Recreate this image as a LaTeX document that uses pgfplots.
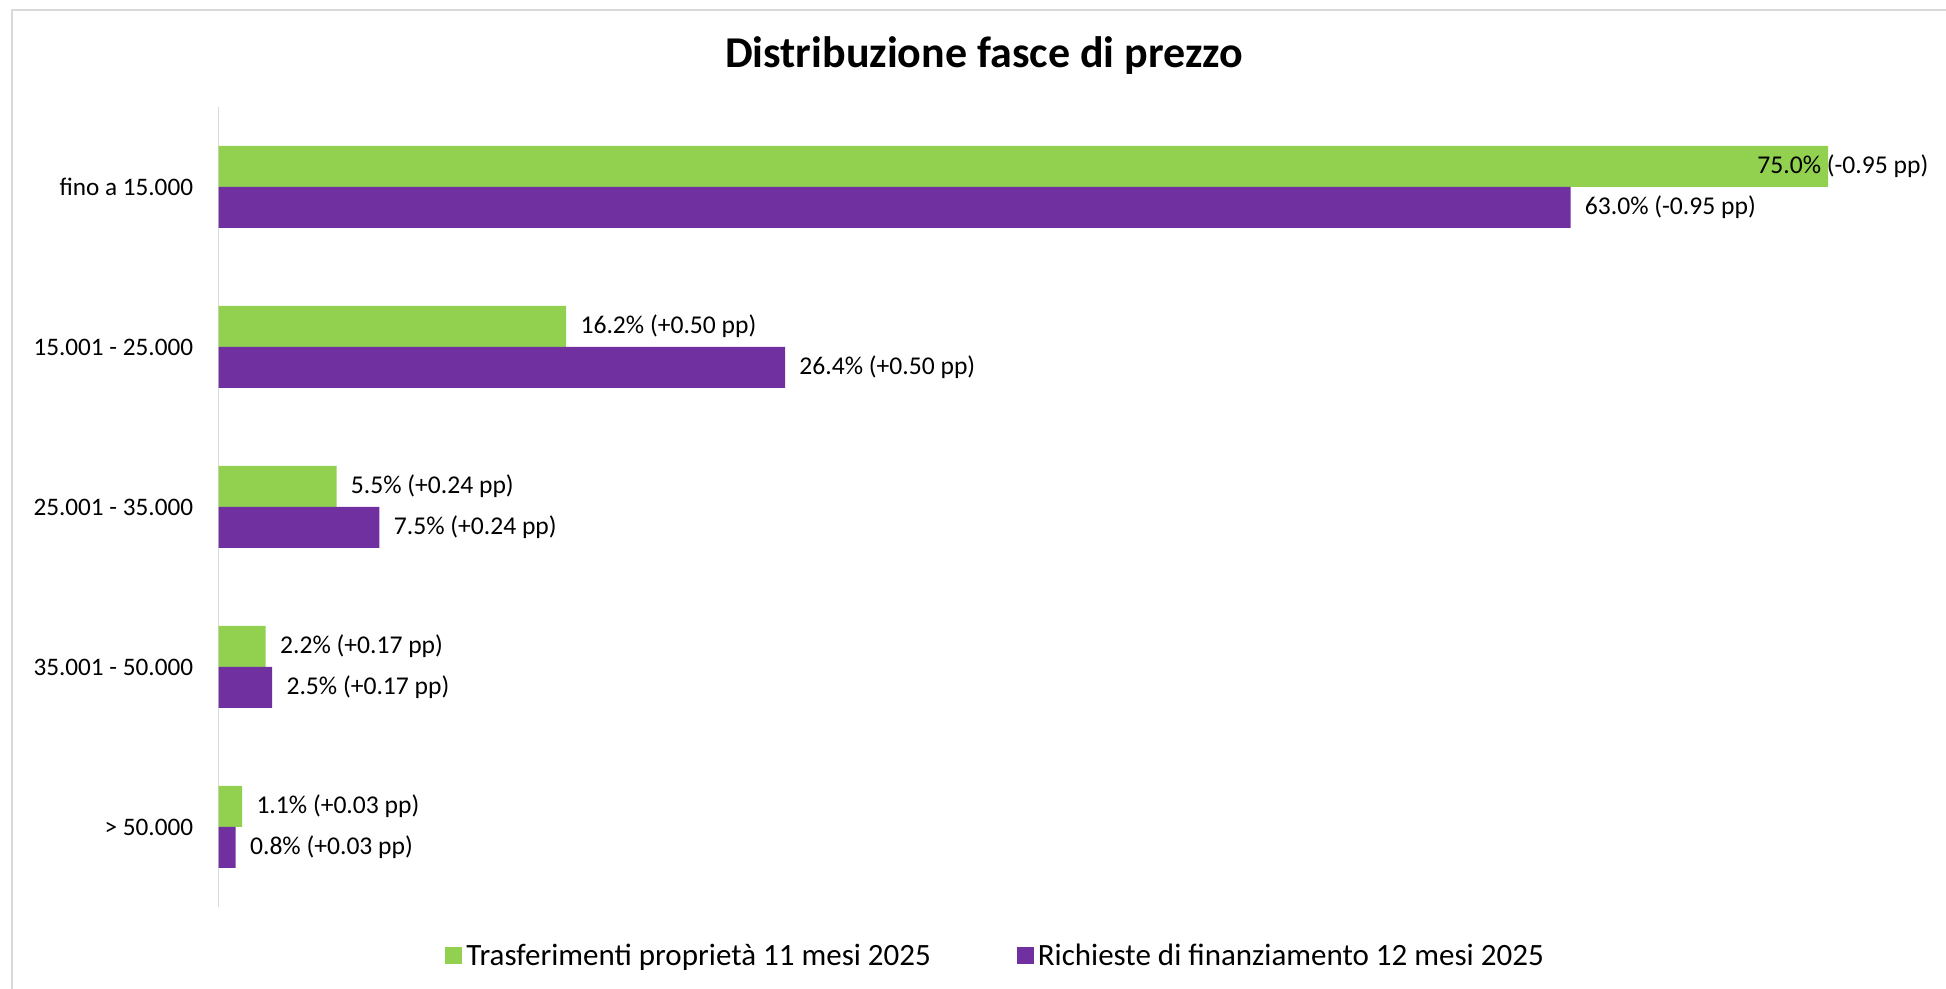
\documentclass[border=0pt]{standalone}
\usepackage{fontspec}
\setmainfont{Carlito}
\usepackage{pgfplots}
\usepackage{pgfplotstable}
\pgfplotsset{compat=1.18}
\definecolor{verde}{HTML}{92D050}
\definecolor{viola}{HTML}{7030A0}
\definecolor{cornice}{HTML}{D9D9D9}

% y: 5 = fino a 15.000 ... 1 = > 50.000
\pgfplotstableread{
y x lab dx
5 75.0 {75.0\% (-0.95 pp)} -42.5
4 16.2 {16.2\% (+0.50 pp)} 0
3 5.5 {5.5\% (+0.24 pp)} 0
2 2.2 {2.2\% (+0.17 pp)} 0
1 1.1 {1.1\% (+0.03 pp)} 0
}\trasferimenti
\pgfplotstableread{
y x lab dx
5 63.0 {63.0\% (-0.95 pp)} 0
4 26.4 {26.4\% (+0.50 pp)} 0
3 7.5 {7.5\% (+0.24 pp)} 0
2 2.5 {2.5\% (+0.17 pp)} 0
1 0.8 {0.8\% (+0.03 pp)} 0
}\richieste

\pgfplotsset{etichette/.style={
    point meta=explicit symbolic,
    visualization depends on={\thisrow{dx} \as \dx},
    nodes near coords,
    nodes near coords style={anchor=west, inner sep=0pt, text=black,
        font=\fontsize{12.8}{15}\selectfont, xshift={7+\dx}},
}}

\begin{document}
\begin{tikzpicture}
% chart frame
\draw[cornice, line width=1pt] (6pt,-20pt) rectangle (1000pt,489.5pt);
\node[font=\fontsize{22}{26}\selectfont\bfseries] at (492pt,466.5pt) {Distribuzione fasce di prezzo};
\begin{axis}[
    at={(109.25pt,41pt)}, anchor=south west,
    scale only axis,
    width=858.4pt, height=400pt,
    xbar, bar width=20.5pt,
    xmin=0, xmax=80,
    ymin=0.5, ymax=5.5,
    hide x axis,
    axis y line*=left,
    y axis line style={draw=cornice, line width=0.9pt, -},
    ytick={1,2,3,4,5},
    yticklabels={> 50.000, 35.001 - 50.000, 25.001 - 35.000, 15.001 - 25.000, fino a 15.000},
    major tick length=0pt,
    yticklabel style={font=\fontsize{12.6}{15}\selectfont, inner sep=0pt, xshift=-12.5pt},
    clip=false,
    legend style={at={(axis description cs:0.4532,-0.06125)}, anchor=center,
        draw=none, fill=none, font=\fontsize{15.5}{18}\selectfont,
        /tikz/every even column/.append style={column sep=41pt}},
    legend columns=2,
    legend image code/.code={\fill[#1] (0pt,-4.25pt) rectangle (8.5pt,4.25pt);},
]
\addplot[fill=verde, draw=none, bar shift=10.25pt, etichette]
    table[x=x, y=y, meta=lab] {\trasferimenti};
\addlegendentry{Trasferimenti proprietà 11 mesi 2025}
\addplot[fill=viola, draw=none, bar shift=-10.25pt, etichette]
    table[x=x, y=y, meta=lab] {\richieste};
\addlegendentry{Richieste di finanziamento 12 mesi 2025}
\end{axis}
\pgfresetboundingbox
\path[use as bounding box] (0pt,0pt) rectangle (973pt,494.5pt);
\end{tikzpicture}
\end{document}
